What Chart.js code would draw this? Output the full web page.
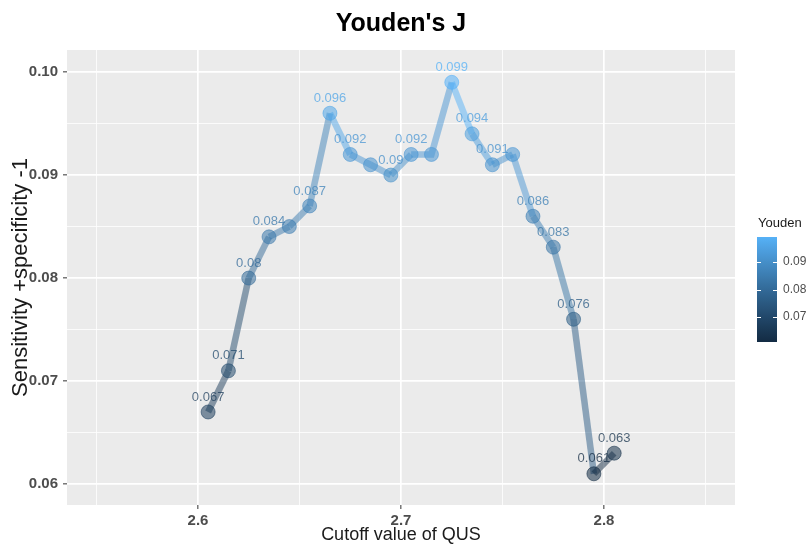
<!DOCTYPE html>
<html>
<head>
<meta charset="utf-8">
<script src="https://cdn.jsdelivr.net/npm/chart.js@4.4.1/dist/chart.umd.min.js"></script>
<style>
  html, body { margin: 0; padding: 0; background: #ffffff; }
  #c { display: block; }
</style>
</head>
<body>
<canvas id="c" width="806" height="547"></canvas>
<script>
// ---- data ----
const cutoff = [2.605, 2.615, 2.625, 2.635, 2.645, 2.655, 2.665, 2.675, 2.685, 2.695, 2.705,
                2.715, 2.725, 2.735, 2.745, 2.755, 2.765, 2.775, 2.785, 2.795, 2.805];
const youden = [0.067, 0.071, 0.080, 0.084, 0.085, 0.087, 0.096, 0.092, 0.091, 0.090, 0.092,
                0.092, 0.099, 0.094, 0.091, 0.092, 0.086, 0.083, 0.076, 0.061, 0.063];
const xMajorTicks = [2.6, 2.7, 2.8];
const xMajorLabels = ['2.6', '2.7', '2.8'];
const xMinorTicks = [2.55, 2.65, 2.75, 2.85];
const yMajorTicks = [0.06, 0.07, 0.08, 0.09, 0.10];
const yMajorLabels = ['0.06', '0.07', '0.08', '0.09', '0.10'];
const yMinorTicks = [0.065, 0.075, 0.085, 0.095];
const legendTicks = [0.07, 0.08, 0.09];
const legendLabels = ['0.07', '0.08', '0.09'];
const titleText = "Youden's J";
const xTitle = 'Cutoff value of QUS';
const yTitle = 'Sensitivity +specificity -1';
const legendTitle = 'Youden';

// ---- colour scale (ggplot default gradient, Lab interpolation) ----
const LOW = [0x13, 0x2B, 0x43], HIGH = [0x56, 0xB1, 0xF7];
const cMin = Math.min(...youden), cMax = Math.max(...youden);
function lin(c){ c/=255; return c<=0.04045? c/12.92 : Math.pow((c+0.055)/1.055,2.4); }
function unlin(c){ const v = c<=0.0031308? 12.92*c : 1.055*Math.pow(c,1/2.4)-0.055; return Math.round(Math.max(0,Math.min(1,v))*255); }
const WN=[0.95047,1,1.08883];
function f(t){ return t>0.008856? Math.cbrt(t) : 7.787*t+16/116; }
function fi(t){ return t*t*t>0.008856? t*t*t : (t-16/116)/7.787; }
function toLab(rgb){
  const r=lin(rgb[0]), g=lin(rgb[1]), b=lin(rgb[2]);
  const X=(0.4124*r+0.3576*g+0.1805*b)/WN[0], Y=(0.2126*r+0.7152*g+0.0722*b)/WN[1], Z=(0.0193*r+0.1192*g+0.9505*b)/WN[2];
  const fx=f(X), fy=f(Y), fz=f(Z);
  return [116*fy-16, 500*(fx-fy), 200*(fy-fz)];
}
function fromLab(lab){
  const fy=(lab[0]+16)/116, fx=fy+lab[1]/500, fz=fy-lab[2]/200;
  const X=fi(fx)*WN[0], Y=fi(fy)*WN[1], Z=fi(fz)*WN[2];
  const r= 3.2406*X-1.5372*Y-0.4986*Z, g=-0.9689*X+1.8758*Y+0.0415*Z, b=0.0557*X-0.2040*Y+1.0570*Z;
  return [unlin(r), unlin(g), unlin(b)];
}
const LAB_LOW = toLab(LOW), LAB_HIGH = toLab(HIGH);
function colorFor(v, a){
  let t = (v - cMin) / (cMax - cMin); t = Math.max(0, Math.min(1, t));
  const lab = [0,1,2].map(i => LAB_LOW[i] + (LAB_HIGH[i]-LAB_LOW[i])*t);
  const c = fromLab(lab);
  return `rgba(${c[0]},${c[1]},${c[2]},${a})`;
}
const LINE_ALPHA = 0.5, POINT_ALPHA = 0.55, LABEL_ALPHA = 0.75;
const FONT = "'Liberation Sans', Arial, sans-serif";

function near(list, v){ return list.findIndex(t => Math.abs(t - v) < 1e-9); }

const panelPlugin = {
  id: 'panel',
  beforeDraw(chart){
    const {ctx, chartArea:a} = chart;
    ctx.save();
    ctx.fillStyle = '#EBEBEB';
    ctx.fillRect(a.left, a.top, a.right-a.left, a.bottom-a.top);
    ctx.restore();
  }
};

// point labels, skipping any that would overlap an already drawn one (like check_overlap)
const labelPlugin = {
  id: 'pointLabels',
  afterDatasetsDraw(chart){
    const {ctx} = chart;
    const meta = chart.getDatasetMeta(0);
    ctx.save();
    ctx.font = `13px ${FONT}`;
    ctx.textAlign = 'center';
    ctx.textBaseline = 'middle';
    const drawn = [];
    const h = 12;
    meta.data.forEach((pt, i) => {
      const txt = String(youden[i]);
      const w = ctx.measureText(txt).width;
      const box = {l: pt.x - w/2, r: pt.x + w/2, t: pt.y - 15 - h/2, b: pt.y - 15 + h/2};
      const hit = drawn.some(d => box.l < d.r && box.r > d.l && box.t < d.b && box.b > d.t);
      if (hit) return;
      drawn.push(box);
      ctx.fillStyle = colorFor(youden[i], LABEL_ALPHA);
      ctx.fillText(txt, pt.x, pt.y - 15);
    });
    ctx.restore();
  }
};

const decorPlugin = {
  id: 'decor',
  afterDraw(chart){
    const {ctx} = chart;
    ctx.save();
    // title
    ctx.fillStyle = '#000000';
    ctx.font = `bold 25px ${FONT}`;
    ctx.textAlign = 'center';
    ctx.textBaseline = 'alphabetic';
    ctx.fillText(titleText, 401, 31);
    // legend colourbar
    const bx = 757, bw = 20, top = 237, bot = 342;
    const yOf = v => bot - (v - cMin) / (cMax - cMin) * (bot - top);
    const g = ctx.createLinearGradient(0, bot, 0, top);
    for (let k = 0; k <= 20; k++) {
      const v = cMin + (cMax - cMin) * k / 20;
      g.addColorStop(k / 20, colorFor(v, 1));
    }
    ctx.fillStyle = g;
    ctx.fillRect(bx, top, bw, bot - top);
    ctx.strokeStyle = '#ffffff';
    ctx.lineWidth = 1;
    legendTicks.forEach(v => {
      const y = Math.round(yOf(v)) + 0.5;
      ctx.beginPath();
      ctx.moveTo(bx, y); ctx.lineTo(bx + 4, y);
      ctx.moveTo(bx + bw - 4, y); ctx.lineTo(bx + bw, y);
      ctx.stroke();
    });
    ctx.fillStyle = '#4D4D4D';
    ctx.font = `12px ${FONT}`;
    ctx.textAlign = 'left';
    ctx.textBaseline = 'middle';
    legendTicks.forEach((v, i) => ctx.fillText(legendLabels[i], bx + bw + 6, yOf(v)));
    ctx.fillStyle = '#1A1A1A';
    ctx.font = `13px ${FONT}`;
    ctx.fillText(legendTitle, 758, 223);
    ctx.restore();
  }
};

new Chart(document.getElementById('c'), {
  type: 'line',
  data: {
    datasets: [{
      data: cutoff.map((x, i) => ({x: x, y: youden[i]})),
      borderWidth: 6.5,
      tension: 0,
      fill: false,
      borderColor: colorFor(cMax, LINE_ALPHA),
      segment: { borderColor: c => colorFor(c.p0.parsed.y, LINE_ALPHA) },
      pointRadius: 7,
      pointHoverRadius: 7,
      pointBorderWidth: 1,
      pointBackgroundColor: c => colorFor(youden[c.dataIndex] ?? cMax, POINT_ALPHA),
      pointBorderColor: c => colorFor(youden[c.dataIndex] ?? cMax, POINT_ALPHA),
      clip: false
    }]
  },
  options: {
    responsive: false,
    animation: false,
    events: [],
    layout: { padding: { top: 50, right: 71, left: 0, bottom: 0 } },
    plugins: { legend: { display: false }, tooltip: { enabled: false }, title: { display: false } },
    scales: {
      x: {
        type: 'linear',
        min: 2.5355, max: 2.8645,
        afterBuildTicks: s => { s.ticks = [...xMajorTicks, ...xMinorTicks].sort((a,b)=>a-b).map(v => ({value: v})); },
        afterFit: s => { s.height = 42; },
        border: { display: false },
        grid: {
          color: '#FFFFFF',
          lineWidth: c => near(xMajorTicks, c.tick.value) >= 0 ? 1.7 : 0.8,
          tickColor: c => near(xMajorTicks, c.tick.value) >= 0 ? '#333333' : 'rgba(0,0,0,0)',
          tickLength: 4,
          tickWidth: 1
        },
        ticks: {
          autoSkip: false, maxRotation: 0, padding: 3,
          color: '#4D4D4D',
          font: { family: FONT, size: 15, weight: 'bold' },
          callback: v => { const i = near(xMajorTicks, v); return i >= 0 ? xMajorLabels[i] : ''; }
        },
        title: { display: true, text: xTitle, color: '#1A1A1A', font: { family: FONT, size: 18 }, padding: { top: 0, bottom: 1 } }
      },
      y: {
        type: 'linear',
        min: 0.05797, max: 0.10214,
        afterBuildTicks: s => { s.ticks = [...yMajorTicks, ...yMinorTicks].sort((a,b)=>a-b).map(v => ({value: v})); },
        afterFit: s => { s.width = 67; },
        border: { display: false },
        grid: {
          color: '#FFFFFF',
          lineWidth: c => near(yMajorTicks, c.tick.value) >= 0 ? 1.7 : 0.8,
          tickColor: c => near(yMajorTicks, c.tick.value) >= 0 ? '#333333' : 'rgba(0,0,0,0)',
          tickLength: 4,
          tickWidth: 1
        },
        ticks: {
          autoSkip: false, padding: 5,
          color: '#4D4D4D',
          font: { family: FONT, size: 15, weight: 'bold' },
          callback: v => { const i = near(yMajorTicks, v); return i >= 0 ? yMajorLabels[i] : ''; }
        },
        title: { display: true, text: yTitle, color: '#1A1A1A', font: { family: FONT, size: 22 }, padding: { top: 8, bottom: 0 } }
      }
    }
  },
  plugins: [panelPlugin, labelPlugin, decorPlugin]
});
</script>
</body>
</html>
